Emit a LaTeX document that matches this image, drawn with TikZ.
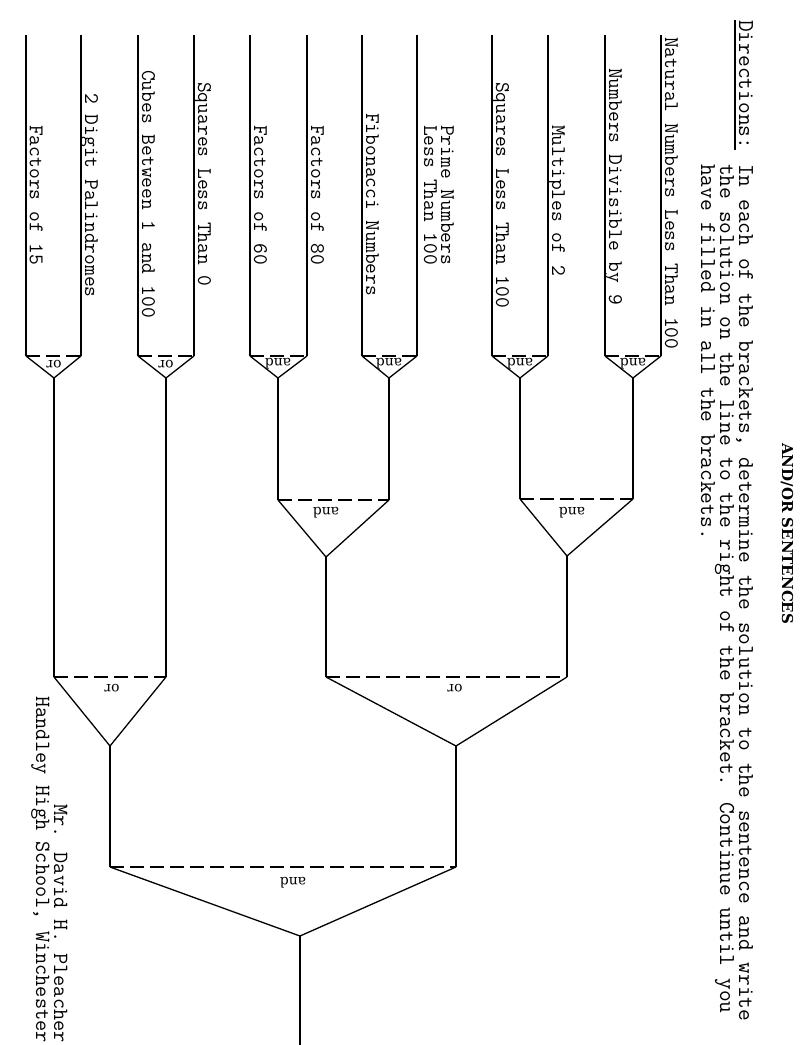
\documentclass[tikz,border=0pt]{standalone}
\usepackage{fontspec}
\newfontfamily\gateFont{DejaVu Serif}
\usetikzlibrary{calc}
%%
%% A leaf line with its sentence written along it.
\newcommand{\leafLine}[4]{%%
  \coordinate (#1Top) at (#2,\leafTop);
  \coordinate (#1End) at (#2,\leafEnd);
  \draw[lineStyle] (#1Top) -- (#1End);
  \node[leafStyle] (#1Text) at (#2+4,#3) {#4};
}
%% A bracket: dashed lid, solid V down to the apex, and its word.
\newcommand{\bracketGate}[5]{%%
  \draw[dashStyle] (#1) -- (#2);
  \draw[lineStyle] (#1) -- (#3) -- (#2);
  \node[gateStyle] (#3Text) at (#5) {#4};
}
%% A stem from an apex down to the lid of the next bracket.
\newcommand{\stem}[2]{%%
  \draw[lineStyle] (#1) -- (#2);
}

\begin{document}
\begin{tikzpicture}[x=1pt,y=-1pt,%%
  lineStyle/.style={-,line width=1.3pt},%%
  dashStyle/.style={-,line width=1.3pt,dash pattern=on 14pt off 6pt},%%
  leafStyle/.style={rotate=-90,anchor=base west,inner sep=0pt,font=\ttfamily\fontsize{20.9}{23}\selectfont},%%
  dirStyle/.style={leafStyle,font=\ttfamily\fontsize{22.8}{25}\selectfont},%%
  signStyle/.style={rotate=-90,anchor=base east,inner sep=0pt,font=\ttfamily\fontsize{21.7}{24}\selectfont},%%
  titleStyle/.style={rotate=-90,anchor=base west,inner sep=0pt,font=\gateFont\bfseries\fontsize{15}{17}\selectfont},%%
  gateStyle/.style={rotate=180,inner sep=0pt,font=\gateFont\fontsize{14}{16}\selectfont}%%
]
%%
\useasboundingbox (0,0) rectangle (800,1045);
%%
\pgfmathsetmacro{\leafTop}{35}
\pgfmathsetmacro{\leafEnd}{356}
\pgfmathsetmacro{\apexOne}{378}
%%
%% Title and directions.
\node[titleStyle] (title) at (782,443) {AND/OR SENTENCES};
\node[dirStyle] (directions) at (739,20) {Directions:};
\draw[lineStyle] ([xshift=-4pt]directions.base west) -- ([xshift=-4pt]directions.base east);
\node[dirStyle] (dirOne) at (739,164) {In each of the brackets, determine the solution to the sentence and write};
\node[dirStyle] (dirTwo) at (720,164) {the solution on the line to the right of the bracket.  Continue until you};
\node[dirStyle] (dirThree) at (701,164) {have filled in all the brackets.};
%%
%% The sentences.
\leafLine{natural}{661}{37}{Natural Numbers Less Than 100}
\leafLine{divisible}{605}{68}{Numbers Divisible by 9}
\leafLine{multiples}{548}{125}{Multiples of 2}
\leafLine{squaresHundred}{492}{82}{Squares Less Than 100}
\coordinate (primeTop) at (417,\leafTop);
\coordinate (primeEnd) at (417,\leafEnd);
\draw[lineStyle] (primeTop) -- (primeEnd);
\node[leafStyle] (primeText) at (441,125) {Prime Numbers};
\node[leafStyle] (primeLess) at (424,125) {Less Than 100};
\leafLine{fibonacci}{362}{113}{Fibonacci Numbers}
\leafLine{eighty}{307}{125}{Factors of 80}
\leafLine{sixty}{250}{125}{Factors of 60}
\leafLine{squaresZero}{194}{82}{Squares Less Than 0}
\leafLine{cubes}{138}{70}{Cubes Between 1 and 100}
\leafLine{palindromes}{81}{93}{2 Digit Palindromes}
\leafLine{fifteen}{26}{125}{Factors of 15}
%%
%% First brackets.
\coordinate (andA) at (633,\apexOne);
\coordinate (andB) at (520,\apexOne);
\coordinate (andC) at (389,\apexOne);
\coordinate (andD) at (278,\apexOne);
\coordinate (orE) at (166,\apexOne);
\coordinate (orF) at (54,\apexOne);
\bracketGate{divisibleEnd}{naturalEnd}{andA}{and}{633,364}
\bracketGate{squaresHundredEnd}{multiplesEnd}{andB}{and}{520,364}
\bracketGate{fibonacciEnd}{primeEnd}{andC}{and}{389,364}
\bracketGate{sixtyEnd}{eightyEnd}{andD}{and}{278,364}
\bracketGate{cubesEnd}{squaresZeroEnd}{orE}{or}{166,364}
\bracketGate{fifteenEnd}{palindromesEnd}{orF}{or}{54,364}
%%
%% Second brackets.
\coordinate (andALid) at (633,499);
\coordinate (andBLid) at (520,499);
\coordinate (andAB) at (567,556);
\coordinate (andCLid) at (389,500);
\coordinate (andDLid) at (278,500);
\coordinate (andCD) at (326,557);
\stem{andA}{andALid}
\stem{andB}{andBLid}
\stem{andC}{andCLid}
\stem{andD}{andDLid}
\bracketGate{andBLid}{andALid}{andAB}{and}{572,513}
\bracketGate{andDLid}{andCLid}{andCD}{and}{326,513}
%%
%% Third brackets.
\coordinate (andABLid) at (567,677);
\coordinate (andCDLid) at (326,677);
\coordinate (orRight) at (456,746);
\coordinate (orELid) at (166,677);
\coordinate (orFLid) at (54,677);
\coordinate (orLeft) at (110,746);
\stem{andAB}{andABLid}
\stem{andCD}{andCDLid}
\stem{orE}{orELid}
\stem{orF}{orFLid}
\bracketGate{andCDLid}{andABLid}{orRight}{or}{455,688}
\bracketGate{orFLid}{orELid}{orLeft}{or}{112,688}
%%
%% Last bracket and the answer line.
\coordinate (orLeftLid) at (110,867);
\coordinate (orRightLid) at (456,867);
\coordinate (answer) at (300,936);
\coordinate (answerEnd) at (300,1045);
\stem{orLeft}{orLeftLid}
\stem{orRight}{orRightLid}
\bracketGate{orLeftLid}{orRightLid}{answer}{and}{293,883}
\stem{answer}{answerEnd}
%%
%% Signature.
\node[signStyle] (teacher) at (54,1043) {Mr. David H. Pleacher};
\node[signStyle] (school) at (36,1043) {Handley High School, Winchester};
\end{tikzpicture}
\end{document}
